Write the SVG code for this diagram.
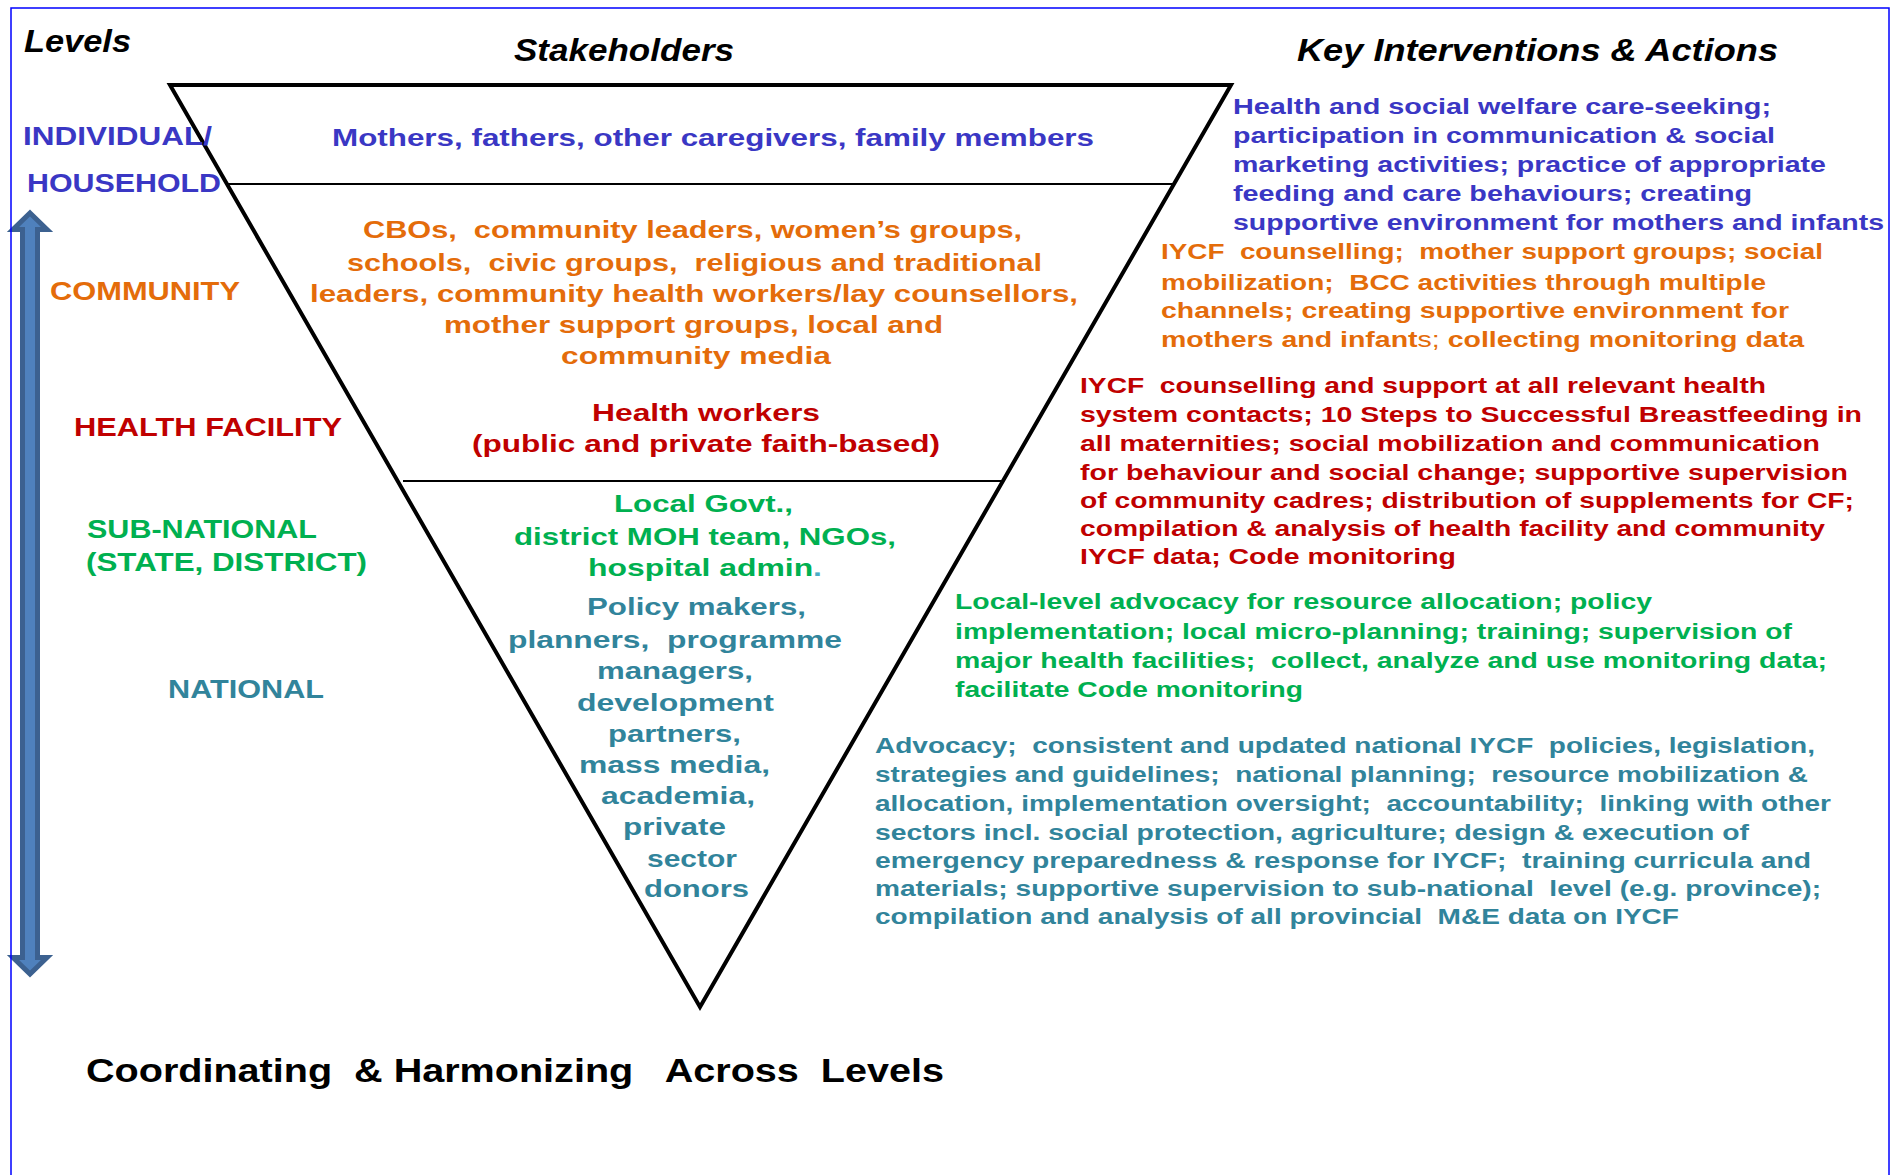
<svg xmlns="http://www.w3.org/2000/svg" width="1896" height="1175" viewBox="0 0 1896 1175">
<style>
text{font-family:"Liberation Sans",Arial,sans-serif;font-weight:bold;white-space:pre}
.h{font-style:italic;font-size:32px;fill:#000}
.lv{font-size:25px}
.st{font-size:24px}
.ki{font-size:22px}
.blue{fill:#3A37C4}
.orange{fill:#E46C0A}
.red{fill:#C00000}
.green{fill:#00B050}
.teal{fill:#31849B}
.line{stroke:#000;fill:none}
</style>
<rect width="1896" height="1175" fill="#fff"/>

<g id="headings">
<text class="h" x="24" y="52" textLength="107" lengthAdjust="spacingAndGlyphs">Levels</text>
<text class="h" x="514" y="61" textLength="220" lengthAdjust="spacingAndGlyphs">Stakeholders</text>
<text class="h" x="1297" y="61" textLength="481" lengthAdjust="spacingAndGlyphs">Key Interventions &amp; Actions</text>
</g>

<g id="connectors">
<g id="pyramid">
<polygon class="line" points="170,85 1231,85 700,1007" stroke-width="4" stroke-linejoin="miter"/>
<line class="line" x1="228" y1="184" x2="1174" y2="184" stroke-width="2"/>
<line class="line" x1="403" y1="481" x2="1003" y2="481" stroke-width="2"/>
</g>
<g id="level-arrow">
<polygon points="30,213 47,229.5 37.5,229.5 37.5,957.5 47,957.5 30,974 13,957.5 22.5,957.5 22.5,229.5 13,229.5" fill="#4F81BD" stroke="#3C6190" stroke-width="5" stroke-linejoin="miter"/>
</g>
</g>

<g id="level-individual">
<text class="lv blue" x="23" y="145" textLength="189" lengthAdjust="spacingAndGlyphs">INDIVIDUAL/</text>
<text class="lv blue" x="27" y="192" textLength="194" lengthAdjust="spacingAndGlyphs">HOUSEHOLD</text>
</g>
<g id="level-community">
<text class="lv orange" x="50" y="300" textLength="190" lengthAdjust="spacingAndGlyphs">COMMUNITY</text>
</g>
<g id="level-health-facility">
<text class="lv red" x="74" y="436" textLength="268" lengthAdjust="spacingAndGlyphs">HEALTH FACILITY</text>
</g>
<g id="level-subnational">
<text class="lv green" x="87" y="538" textLength="230" lengthAdjust="spacingAndGlyphs">SUB-NATIONAL</text>
<text class="lv green" x="86" y="571" textLength="281" lengthAdjust="spacingAndGlyphs">(STATE, DISTRICT)</text>
</g>
<g id="level-national">
<text class="lv teal" x="168" y="698" textLength="156" lengthAdjust="spacingAndGlyphs">NATIONAL</text>
</g>

<g id="stakeholders-individual">
<text class="st blue" x="332" y="146" textLength="762" lengthAdjust="spacingAndGlyphs">Mothers, fathers, other caregivers, family members</text>
</g>
<g id="stakeholders-community">
<text class="st orange" x="363" y="238" textLength="659" lengthAdjust="spacingAndGlyphs">CBOs,  community leaders, women’s groups,</text>
<text class="st orange" x="347" y="271" textLength="695" lengthAdjust="spacingAndGlyphs">schools,  civic groups,  religious and traditional</text>
<text class="st orange" x="310" y="302" textLength="768" lengthAdjust="spacingAndGlyphs">leaders, community health workers/lay counsellors,</text>
<text class="st orange" x="444" y="333" textLength="499" lengthAdjust="spacingAndGlyphs">mother support groups, local and</text>
<text class="st orange" x="561" y="364" textLength="270" lengthAdjust="spacingAndGlyphs">community media</text>
</g>
<g id="stakeholders-health-facility">
<text class="st red" x="592" y="421" textLength="228" lengthAdjust="spacingAndGlyphs">Health workers</text>
<text class="st red" x="472" y="452" textLength="468" lengthAdjust="spacingAndGlyphs">(public and private faith-based)</text>
</g>
<g id="stakeholders-subnational">
<text class="st green" x="614" y="512" textLength="179" lengthAdjust="spacingAndGlyphs">Local Govt.,</text>
<text class="st green" x="514" y="545" textLength="382" lengthAdjust="spacingAndGlyphs">district MOH team, NGOs,</text>
<text class="st green" x="588" y="576" textLength="234" lengthAdjust="spacingAndGlyphs">hospital admin<tspan fill="#4BACC6">.</tspan></text>
</g>
<g id="stakeholders-national">
<text class="st teal" x="587" y="615" textLength="219" lengthAdjust="spacingAndGlyphs">Policy makers,</text>
<text class="st teal" x="508" y="648" textLength="334" lengthAdjust="spacingAndGlyphs">planners,  programme</text>
<text class="st teal" x="597" y="679" textLength="156" lengthAdjust="spacingAndGlyphs">managers,</text>
<text class="st teal" x="577" y="711" textLength="197" lengthAdjust="spacingAndGlyphs">development</text>
<text class="st teal" x="608" y="742" textLength="133" lengthAdjust="spacingAndGlyphs">partners,</text>
<text class="st teal" x="579" y="773" textLength="191" lengthAdjust="spacingAndGlyphs">mass media,</text>
<text class="st teal" x="601" y="804" textLength="154" lengthAdjust="spacingAndGlyphs">academia,</text>
<text class="st teal" x="623" y="835" textLength="103" lengthAdjust="spacingAndGlyphs">private</text>
<text class="st teal" x="647" y="867" textLength="90" lengthAdjust="spacingAndGlyphs">sector</text>
<text class="st teal" x="644" y="897" textLength="105" lengthAdjust="spacingAndGlyphs">donors</text>
</g>

<g id="actions-individual">
<text class="ki blue" x="1233" y="114" textLength="538" lengthAdjust="spacingAndGlyphs">Health and social welfare care-seeking;</text>
<text class="ki blue" x="1233" y="143" textLength="542" lengthAdjust="spacingAndGlyphs">participation in communication &amp; social</text>
<text class="ki blue" x="1233" y="172" textLength="593" lengthAdjust="spacingAndGlyphs">marketing activities; practice of appropriate</text>
<text class="ki blue" x="1233" y="201" textLength="519" lengthAdjust="spacingAndGlyphs">feeding and care behaviours; creating</text>
<text class="ki blue" x="1233" y="230" textLength="651" lengthAdjust="spacingAndGlyphs">supportive environment for mothers and infants</text>
</g>
<g id="actions-community">
<text class="ki orange" x="1161" y="259" textLength="662" lengthAdjust="spacingAndGlyphs">IYCF  counselling;  mother support groups; social</text>
<text class="ki orange" x="1161" y="290" textLength="605" lengthAdjust="spacingAndGlyphs">mobilization;  BCC activities through multiple</text>
<text class="ki orange" x="1161" y="318" textLength="628" lengthAdjust="spacingAndGlyphs">channels; creating supportive environment for</text>
<text class="ki orange" x="1161" y="347" textLength="643" lengthAdjust="spacingAndGlyphs">mothers and infant<tspan font-weight="normal">s;</tspan> collecting monitoring data</text>
</g>
<g id="actions-health-facility">
<text class="ki red" x="1080" y="393" textLength="686" lengthAdjust="spacingAndGlyphs">IYCF  counselling and support at all relevant health</text>
<text class="ki red" x="1080" y="422" textLength="782" lengthAdjust="spacingAndGlyphs">system contacts; 10 Steps to Successful Breastfeeding in</text>
<text class="ki red" x="1080" y="451" textLength="740" lengthAdjust="spacingAndGlyphs">all maternities; social mobilization and communication</text>
<text class="ki red" x="1080" y="480" textLength="768" lengthAdjust="spacingAndGlyphs">for behaviour and social change; supportive supervision</text>
<text class="ki red" x="1080" y="508" textLength="774" lengthAdjust="spacingAndGlyphs">of community cadres; distribution of supplements for CF;</text>
<text class="ki red" x="1080" y="536" textLength="745" lengthAdjust="spacingAndGlyphs">compilation &amp; analysis of health facility and community</text>
<text class="ki red" x="1080" y="564" textLength="376" lengthAdjust="spacingAndGlyphs">IYCF data; Code monitoring</text>
</g>
<g id="actions-subnational">
<text class="ki green" x="955" y="609" textLength="697" lengthAdjust="spacingAndGlyphs">Local-level advocacy for resource allocation; policy</text>
<text class="ki green" x="955" y="639" textLength="837" lengthAdjust="spacingAndGlyphs">implementation; local micro-planning; training; supervision of</text>
<text class="ki green" x="955" y="668" textLength="872" lengthAdjust="spacingAndGlyphs">major health facilities;  collect, analyze and use monitoring data;</text>
<text class="ki green" x="955" y="697" textLength="348" lengthAdjust="spacingAndGlyphs">facilitate Code monitoring</text>
</g>
<g id="actions-national">
<text class="ki teal" x="875" y="753" textLength="940" lengthAdjust="spacingAndGlyphs">Advocacy;  consistent and updated national IYCF  policies, legislation,</text>
<text class="ki teal" x="875" y="782" textLength="933" lengthAdjust="spacingAndGlyphs">strategies and guidelines;  national planning;  resource mobilization &amp;</text>
<text class="ki teal" x="875" y="811" textLength="956" lengthAdjust="spacingAndGlyphs">allocation, implementation oversight;  accountability;  linking with other</text>
<text class="ki teal" x="875" y="840" textLength="874" lengthAdjust="spacingAndGlyphs">sectors incl. social protection, agriculture; design &amp; execution of</text>
<text class="ki teal" x="875" y="868" textLength="936" lengthAdjust="spacingAndGlyphs">emergency preparedness &amp; response for IYCF;  training curricula and</text>
<text class="ki teal" x="875" y="896" textLength="946" lengthAdjust="spacingAndGlyphs">materials; supportive supervision to sub-national  level (e.g. province);</text>
<text class="ki teal" x="875" y="924" textLength="804" lengthAdjust="spacingAndGlyphs">compilation and analysis of all provincial  M&amp;E data on IYCF</text>
</g>

<g id="footer">
<text x="86" y="1082" font-size="33" fill="#000" textLength="858" lengthAdjust="spacingAndGlyphs">Coordinating  &amp; Harmonizing   Across  Levels</text>
</g>

<rect id="frame" x="11" y="8" width="1878" height="1200" fill="none" stroke="#0000FF" stroke-width="1.5"/>
</svg>
